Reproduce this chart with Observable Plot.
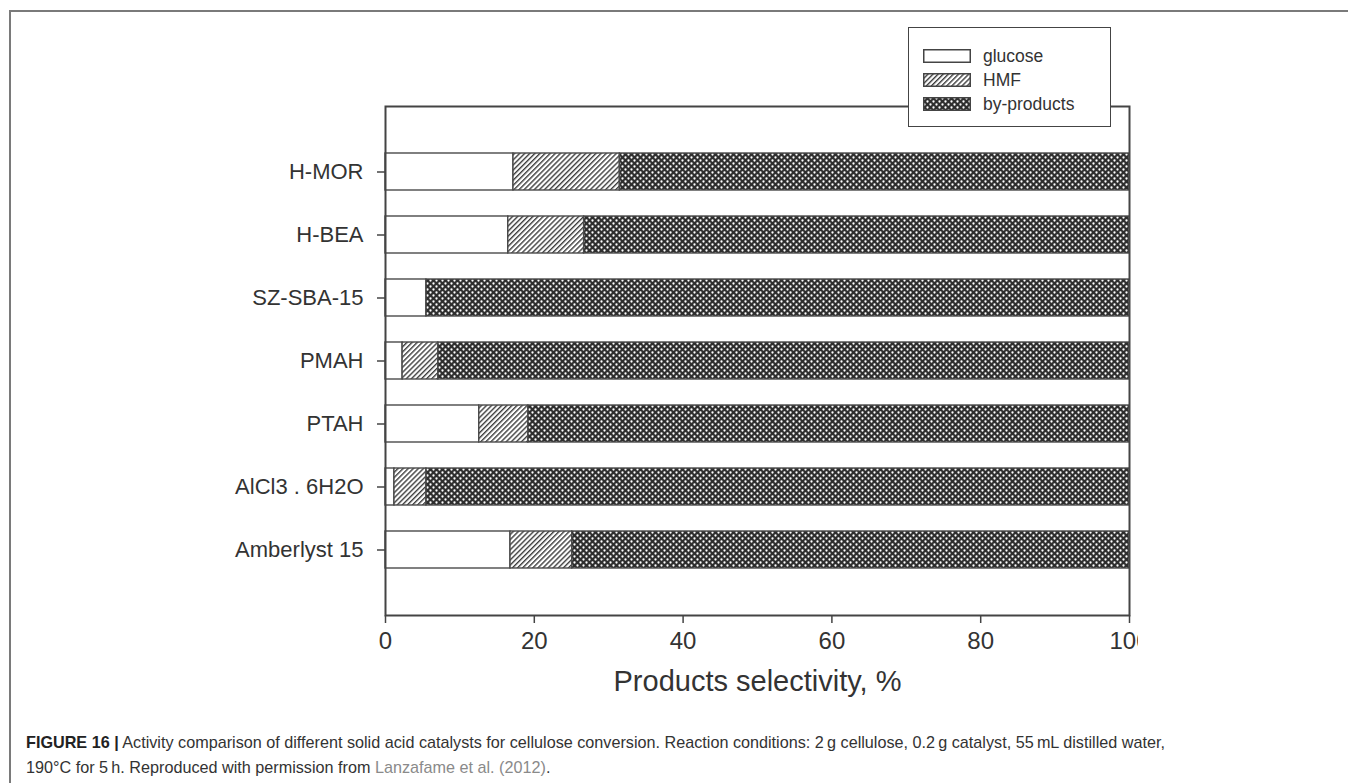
<!DOCTYPE html>
<html>
<head>
<meta charset="utf-8">
<script src="https://cdn.jsdelivr.net/npm/d3@7"></script>
<script src="https://cdn.jsdelivr.net/npm/@observablehq/plot@0.6"></script>
<style>
  html, body { margin: 0; padding: 0; background: #fff; width: 1348px; height: 783px; overflow: hidden; position: relative; }
  #figbox { position: absolute; left: 9px; top: 10px; width: 1400px; height: 800px; border-left: 2px solid #7a7a7a; border-top: 2px solid #7a7a7a; }
  #chart { position: absolute; left: 0; top: 0; }
  #legend { position: absolute; left: 908px; top: 27px; width: 201px; height: 98px; border: 1.5px solid #444; background: #fff;
            font-family: "Liberation Sans", Arial, sans-serif; font-size: 17.5px; color: #333; }
  #legend .row { position: absolute; left: 14px; height: 24px; display: flex; align-items: center; }
  #legend .row svg { margin-right: 12px; }
  #caption { position: absolute; left: 26px; top: 730px; width: 1310px; font-family: "Liberation Sans", Arial, sans-serif;
             font-size: 16.2px; line-height: 25px; color: #333; white-space: nowrap; }
  #caption b { color: #222; }
  #caption .ref { color: #8a8a8a; }
</style>
</head>
<body>
<div id="figbox"></div>
<div id="chart"></div>
<div id="legend"></div>
<div id="caption"><b>FIGURE 16 |</b> Activity comparison of different solid acid catalysts for cellulose conversion. Reaction conditions: 2&#8201;g cellulose, 0.2&#8201;g catalyst, 55&#8201;mL distilled water,<br>190°C for 5&#8201;h. Reproduced with permission from <span class="ref">Lanzafame et al. (2012)</span>.</div>
<script>
const categories = ["H-MOR", "H-BEA", "SZ-SBA-15", "PMAH", "PTAH", "AlCl3 . 6H2O", "Amberlyst 15"];
const glucose    = [17.2, 16.5, 5.5, 2.3, 12.6, 1.2, 16.8];
const hmf        = [14.3, 10.2, 0.0, 4.8, 6.6, 4.3, 8.3];
const byproducts = [68.5, 73.3, 94.5, 92.9, 80.8, 94.5, 74.9];
const products   = ["glucose", "HMF", "by-products"];
const xTicks     = [0, 20, 40, 60, 80, 100];
const xLabel     = "Products selectivity, %";

const fills = ["#ffffff", "url(#pat-hmf)", "url(#pat-byp)"];
const patternDefs = `
  <pattern id="pat-hmf" patternUnits="userSpaceOnUse" width="3.6" height="3.6" patternTransform="rotate(45)">
    <rect width="3.6" height="3.6" fill="#fff"/>
    <line x1="0.7" y1="0" x2="0.7" y2="3.6" stroke="#3c3c3c" stroke-width="1.4"/>
  </pattern>
  <pattern id="pat-byp" patternUnits="userSpaceOnUse" width="6" height="6">
    <rect width="6" height="6" fill="#2e2e2e"/>
    <circle cx="1.5" cy="1.5" r="1.15" fill="#fff"/>
    <circle cx="4.5" cy="4.5" r="1.15" fill="#fff"/>
  </pattern>`;

const series = [glucose, hmf, byproducts];
const rows = categories.flatMap((c, i) => products.map((p, j) => ({cat: c, product: p, pattern: fills[j], value: series[j][i]})));

const font = "'Liberation Sans', Arial, Helvetica, sans-serif";

const chart = Plot.plot({
  width: 1138,
  height: 705,
  marginLeft: 385,
  marginRight: 9,
  marginTop: 106,
  marginBottom: 90,
  style: {fontFamily: font, color: "#333", background: "transparent", overflow: "hidden"},
  x: {domain: [0, 100]},
  y: {domain: categories, paddingInner: 0.42, paddingOuter: 0.71},
  fill: {type: "identity"},
  marks: [
    Plot.barX(rows, {x: "value", y: "cat", z: "product", fill: "pattern", stroke: "#4a4a4a", strokeWidth: 1.4}),
    Plot.frame({stroke: "#444", strokeWidth: 2}),
    Plot.axisX({ticks: xTicks, tickSize: 8, tickPadding: 8, fontSize: 24, stroke: "#444", strokeWidth: 1.5, label: null, fill: "#333"}),
    Plot.axisY({tickSize: 8, tickPadding: 14, fontSize: 22, stroke: "#444", strokeWidth: 1.5, label: null, fill: "#333"}),
    Plot.text([xLabel], {frameAnchor: "bottom", text: d => d, dy: 75, fontSize: 29, fill: "#333"})
  ]
});
chart.insertAdjacentHTML("afterbegin", `<defs>${patternDefs}</defs>`);
document.getElementById("chart").appendChild(chart);

// Legend
const legend = document.getElementById("legend");
const rowTops = [16, 40, 64];
products.forEach((p, i) => {
  const row = document.createElement("div");
  row.className = "row";
  row.style.top = rowTops[i] + "px";
  row.innerHTML = `<svg width="48" height="14"><defs>${patternDefs.replace(/id="pat-/g, 'id="lg' + i + '-')}</defs>
    <rect x="0.75" y="0.75" width="46.5" height="12.5" fill="${fills[i].replace("#pat-", "#lg" + i + "-")}" stroke="#444" stroke-width="1.5"/></svg><span>${p}</span>`;
  legend.appendChild(row);
});
</script>
</body>
</html>
